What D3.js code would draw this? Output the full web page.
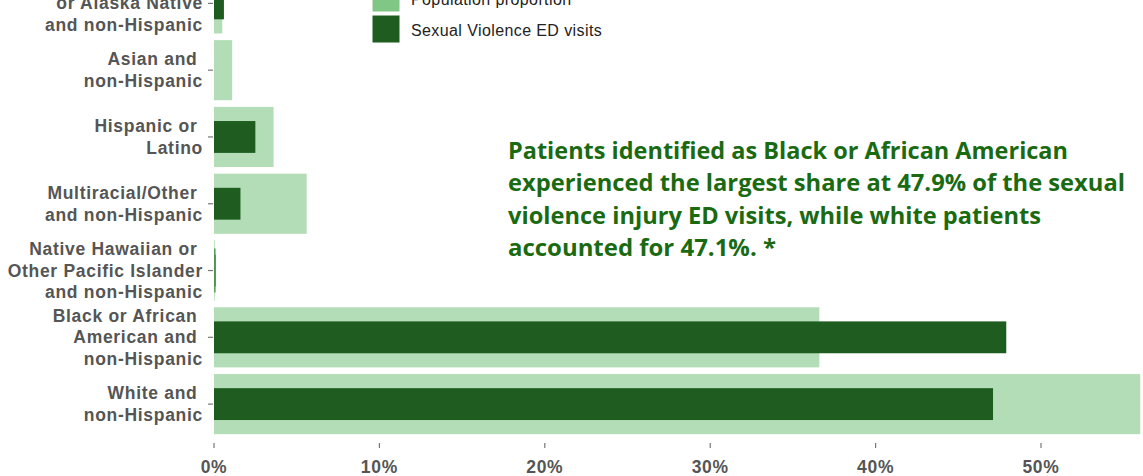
<!DOCTYPE html>
<html>
<head>
<meta charset="utf-8">
<title>Sexual violence ED visits by race and ethnicity</title>
<script src="https://cdn.jsdelivr.net/npm/d3@7"></script>
<style>
  body { margin: 0; background: #fff; }
  svg { display: block; }
  .cat text { font-family: "Liberation Sans", Arial, sans-serif; font-weight: bold; font-size: 17.5px; letter-spacing: 0.7px; fill: #555; white-space: pre; }
  .xaxis text { font-family: "Liberation Sans", Arial, sans-serif; font-weight: bold; font-size: 17.5px; letter-spacing: 0.7px; fill: #555; }
  .legend text { font-family: "Liberation Sans", Arial, sans-serif; font-size: 16px; letter-spacing: 0.4px; fill: #222; }
  .note { font-family: "Open Sans", sans-serif; font-weight: bold; font-size: 23px; fill: #1a6a12; }
</style>
</head>
<body>
<div id="chart"></div>
<script>

var categories = [
    ["American Indian ", "or Alaska Native", "and non-Hispanic"],
    ["Asian and ", "non-Hispanic"],
    ["Hispanic or ", "Latino"],
    ["Multiracial/Other ", "and non-Hispanic"],
    ["Native Hawaiian or ", "Other Pacific Islander", "and non-Hispanic"],
    ["Black or African ", "American and ", "non-Hispanic"],
    ["White and ", "non-Hispanic"]
];
var populationShare = [0.5, 1.1, 3.6, 5.6, 0.05, 36.6, 56.0];
var edVisitShare = [0.6, 0, 2.5, 1.6, 0.1, 47.9, 47.1];
var xTicks = [0, 10, 20, 30, 40, 50];
var legendLabels = ["Population proportion", "Sexual Violence ED visits"];
var noteLines = [
    "Patients identified as Black or African American",
    "experienced the largest share at 47.9% of the sexual",
    "violence injury ED visits, while white patients",
    "accounted for 47.1%. *"
];

var width = 1143, height = 476;
var lightFill = "#b3ddb6", darkFill = "#1e5c20", legendLight = "#80c684";

var svg = d3.select("#chart").append("svg")
    .attr("width", width)
    .attr("height", height);

var x = d3.scaleLinear().domain([0, 50]).range([214, 1041]);

var keys = categories.map(function(d, i) { return i; });
var y = d3.scaleBand().domain(keys).range([-30, 437.5]).paddingInner(0.1).paddingOuter(0.05);

// population bars (wide, light)
svg.append("g").selectAll("rect")
    .data(keys)
    .enter().append("rect")
        .attr("x", x(0))
        .attr("y", function(i) { return y(i); })
        .attr("width", function(i) { return x(populationShare[i]) - x(0); })
        .attr("height", y.bandwidth())
        .attr("fill", lightFill);

// ED visit bars (narrow, dark)
var inner = y.bandwidth() * 0.53;
svg.append("g").selectAll("rect")
    .data(keys)
    .enter().append("rect")
        .attr("x", x(0))
        .attr("y", function(i) { return y(i) + (y.bandwidth() - inner) / 2; })
        .attr("width", function(i) { return Math.max(0, x(edVisitShare[i]) - x(0)); })
        .attr("height", inner)
        .attr("fill", darkFill);

// NHPI share is too small for a bar, draw it as a hairline
svg.append("line")
    .attr("x1", x(0.05)).attr("x2", x(0.05))
    .attr("y1", y(4) + 8).attr("y2", y(4) + y.bandwidth() - 8)
    .attr("stroke", "#4f9a52").attr("stroke-width", 1.5);

// category axis
var cat = svg.append("g").attr("class", "cat");
keys.forEach(function(i) {
    var cy = y(i) + y.bandwidth() / 2;
    cat.append("line")
        .attr("x1", 208).attr("x2", 213)
        .attr("y1", cy).attr("y2", cy)
        .attr("stroke", "#777").attr("stroke-width", 1.2);
    var lines = categories[i];
    var t = cat.append("text").attr("text-anchor", "end");
    lines.forEach(function(s, k) {
        t.append("tspan")
            .attr("x", 203)
            .attr("y", cy + (k - (lines.length - 1) / 2) * 21.5 + 6)
            .text(s);
    });
});

// x axis
var xAxis = svg.append("g").attr("class", "xaxis");
xTicks.forEach(function(v) {
    xAxis.append("line")
        .attr("x1", x(v)).attr("x2", x(v))
        .attr("y1", 443).attr("y2", 448)
        .attr("stroke", "#777").attr("stroke-width", 1.2);
    xAxis.append("text")
        .attr("x", x(v)).attr("y", 473)
        .attr("text-anchor", "middle")
        .text(v + "%");
});

// legend
var legend = svg.append("g").attr("class", "legend");
[legendLight, darkFill].forEach(function(c, i) {
    legend.append("rect")
        .attr("x", 372).attr("y", -16 + i * 31)
        .attr("width", 28).attr("height", 28)
        .attr("fill", c).attr("stroke", "#fff");
    legend.append("text")
        .attr("x", 411).attr("y", 5 + i * 31)
        .text(legendLabels[i]);
});

// annotation
var noteWidths = [560, 617, 533, 268];
noteLines.forEach(function(s, i) {
    svg.append("text")
        .attr("class", "note")
        .attr("x", 508)
        .attr("y", 159 + i * 32.3)
        .attr("textLength", noteWidths[i])
        .attr("lengthAdjust", "spacingAndGlyphs")
        .text(s);
});

</script>
</body>
</html>
